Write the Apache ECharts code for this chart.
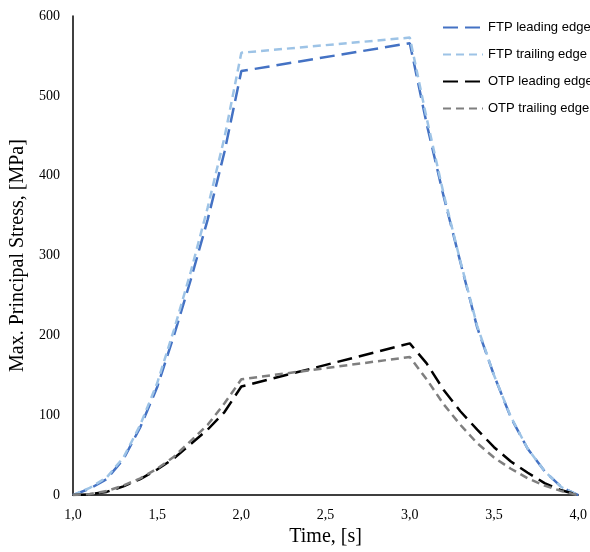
<!DOCTYPE html>
<html>
<head>
<meta charset="utf-8">
<script src="https://cdn.jsdelivr.net/npm/echarts@6/dist/echarts.min.js"></script>
<style>
  html, body { margin: 0; padding: 0; background: #fff; }
  #chart { width: 590px; height: 552px; }
</style>
</head>
<body>
<div id="chart"></div>
<script>
// time steps (s)
var riseX = [1.0, 1.1, 1.2, 1.3, 1.4, 1.5, 1.6, 1.7, 1.8, 1.9, 2.0];
var fallX = [3.0, 3.1, 3.2, 3.3, 3.4, 3.5, 3.6, 3.7, 3.8, 3.9, 4.0];

// stress values (MPa)
var ftpLeadRise = [0, 8, 20, 45, 85, 135, 200, 270, 345, 430, 531];
var ftpLeadFall = [566, 465, 375, 292, 210, 150, 97, 58, 30, 10, 0];
var ftpTrailRise = [0, 9, 22, 47, 88, 140, 207, 280, 360, 448, 554];
var ftpTrailFall = [573, 472, 378, 293, 212, 150, 98, 58, 30, 10, 0];
var otpLeadRise = [0, 1, 4, 11, 20, 32, 46, 64, 82, 104, 136];
var otpLeadFall = [190, 165, 132, 105, 82, 60, 42, 28, 15, 6, 0];
var otpTrailRise = [0, 1.5, 5, 12, 21, 33, 48, 68, 88, 115, 145];
var otpTrailFall = [173, 145, 114, 88, 65, 47, 33, 21, 12, 5, 0];

var names = ['FTP leading edge', 'FTP trailing edge', 'OTP leading edge', 'OTP trailing edge'];
var colors = ['#4472C4', '#9DC3E6', '#000000', '#7F7F7F'];

function pairs(rise, fall) {
  var out = [];
  for (var i = 0; i < riseX.length; i++) out.push([riseX[i], rise[i]]);
  for (var j = 0; j < fallX.length; j++) out.push([fallX[j], fall[j]]);
  return out;
}

var allData = [
  pairs(ftpLeadRise, ftpLeadFall),
  pairs(ftpTrailRise, ftpTrailFall),
  pairs(otpLeadRise, otpLeadFall),
  pairs(otpTrailRise, otpTrailFall)
];
var dashes = [[15, 7], [8, 5], [15, 7], [8, 5]];

var series = [];
for (var k = 0; k < names.length; k++) {
  series.push({
    name: names[k],
    type: 'line',
    data: allData[k],
    symbol: 'none',
    smooth: false,
    lineStyle: { color: colors[k], width: 2.5, type: dashes[k] },
    itemStyle: { color: colors[k] }
  });
}

var myChart = echarts.init(document.getElementById('chart'));
var option = {
  animation: false,
  backgroundColor: '#fff',
  color: colors,
  grid: { left: 67, right: 9, top: 16, bottom: 55, containLabel: false },
  legend: {
    orient: 'vertical',
    left: 437,
    top: 16,
    itemWidth: 40,
    itemHeight: 14,
    itemGap: 14,
    itemStyle: { opacity: 0 },
    textStyle: { fontFamily: 'Liberation Sans', fontSize: 13, color: '#000' },
    data: names
  },
  xAxis: {
    type: 'value',
    min: 1,
    max: 4,
    interval: 0.5,
    name: 'Time, [s]',
    nameLocation: 'middle',
    nameGap: 31,
    nameTextStyle: { fontFamily: 'Liberation Serif', fontSize: 20, color: '#000' },
    axisLine: { show: true, lineStyle: { color: '#000', width: 1.5 } },
    axisTick: { show: false },
    splitLine: { show: false },
    axisLabel: {
      margin: 13,
      fontFamily: 'Liberation Serif',
      fontSize: 14,
      color: '#000',
      formatter: function (v) { return v.toFixed(1).replace('.', ','); }
    }
  },
  yAxis: {
    type: 'value',
    min: 0,
    max: 600,
    interval: 100,
    name: 'Max. Principal Stress, [MPa]',
    nameLocation: 'middle',
    nameGap: 38,
    nameTextStyle: { fontFamily: 'Liberation Serif', fontSize: 20, color: '#000' },
    axisLine: { show: true, lineStyle: { color: '#000', width: 1.5 } },
    axisTick: { show: false },
    splitLine: { show: false },
    axisLabel: { margin: 13, fontFamily: 'Liberation Serif', fontSize: 14, color: '#000' }
  },
  series: series
};
myChart.setOption(option);
</script>
</body>
</html>
